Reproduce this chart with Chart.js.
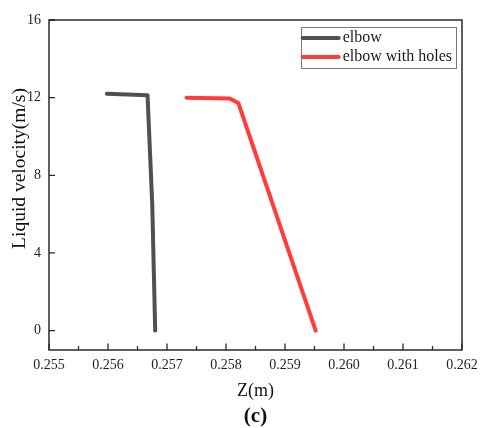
<!DOCTYPE html>
<html>
<head>
<meta charset="utf-8">
<script src="https://cdn.jsdelivr.net/npm/chart.js@4/dist/chart.umd.min.js"></script>
<style>
  html, body { margin: 0; padding: 0; background: #ffffff; }
  #wrap { width: 480px; height: 428px; position: relative; }
</style>
</head>
<body>
<div id="wrap"><canvas id="c" width="480" height="428"></canvas></div>
<script>
// ---- data ----
const seriesNames = ['elbow', 'elbow with holes'];
const elbowZ = [0.25598, 0.25667, 0.25675, 0.25680];
const elbowV = [12.20, 12.12, 6.5, 0.0];
const holesZ = [0.25733, 0.25806, 0.25821, 0.25952];
const holesV = [12.00, 11.96, 11.72, 0.0];
const xTickValues = [0.255, 0.256, 0.257, 0.258, 0.259, 0.260, 0.261, 0.262];
const yTickValues = [0, 4, 8, 12, 16];
const xTitle = 'Z(m)';
const yTitle = 'Liquid velocity(m/s)';
const panelLabel = '(c)';

const colors = ['#505050', '#ff3b3b'];
const FONT = "'Liberation Serif', 'Times New Roman', serif";

function pts(xs, ys) { return xs.map((x, i) => ({ x: x, y: ys[i] })); }

const framePlugin = {
  id: 'frame',
  afterDraw(chart) {
    const ctx = chart.ctx;
    const a = chart.chartArea;
    const xs = chart.scales.x, ys = chart.scales.y;
    ctx.save();
    ctx.strokeStyle = '#2a2a2a';
    ctx.lineWidth = 1.5;
    ctx.strokeRect(a.left, a.top, a.right - a.left, a.bottom - a.top);
    ctx.lineWidth = 1.3;
    ctx.beginPath();
    xs.ticks.forEach((t, i) => {
      const px = xs.getPixelForValue(t.value);
      ctx.moveTo(px, a.bottom); ctx.lineTo(px, a.bottom - 6.5);
      if (i < xs.ticks.length - 1) {
        const mx = (px + xs.getPixelForValue(xs.ticks[i + 1].value)) / 2;
        ctx.moveTo(mx, a.bottom); ctx.lineTo(mx, a.bottom - 4);
      }
    });
    ys.ticks.forEach((t) => {
      const py = ys.getPixelForValue(t.value);
      ctx.moveTo(a.left, py); ctx.lineTo(a.left + 6, py);
    });
    ctx.stroke();

    // y axis title (placed slightly above the plot centre, as in the reference)
    ctx.save();
    ctx.font = "19.5px " + FONT;
    ctx.fillStyle = '#111';
    ctx.textAlign = 'center';
    ctx.textBaseline = 'middle';
    ctx.translate(20, ys.getPixelForValue(8.35));
    ctx.rotate(-Math.PI / 2);
    ctx.fillText(yTitle, 0, 0);
    ctx.restore();

    // legend box
    ctx.font = "16px " + FONT;
    const labels = chart.data.datasets.map(d => d.label);
    const textW = Math.max(...labels.map(l => ctx.measureText(l).width));
    const lineLen = 38, gap = 4, rowH = 19;
    const boxW = lineLen + gap + textW + 4;
    const boxH = rowH * labels.length + 3;
    const bx = a.right - 6 - boxW;
    const by = a.top + 6.5;
    ctx.strokeStyle = '#7a7a7a';
    ctx.lineWidth = 1;
    ctx.strokeRect(Math.round(bx) + 0.5, Math.round(by) + 0.5, Math.round(boxW), Math.round(boxH));
    chart.data.datasets.forEach((d, i) => {
      const cy = by + 11.5 + i * rowH;
      ctx.strokeStyle = d.borderColor;
      ctx.lineWidth = 4;
      ctx.lineCap = 'round';
      ctx.beginPath();
      ctx.moveTo(bx + 2, cy); ctx.lineTo(bx + lineLen, cy);
      ctx.stroke();
      ctx.fillStyle = '#1a1a1a';
      ctx.textBaseline = 'middle';
      ctx.textAlign = 'left';
      ctx.fillText(d.label, bx + lineLen + gap, cy);
    });
    ctx.restore();
  }
};

new Chart(document.getElementById('c'), {
  type: 'line',
  data: {
    datasets: [
      { label: seriesNames[0], data: pts(elbowZ, elbowV), borderColor: colors[0], backgroundColor: colors[0],
        borderWidth: 4, pointRadius: 0, tension: 0, borderCapStyle: 'round', borderJoinStyle: 'round', fill: false },
      { label: seriesNames[1], data: pts(holesZ, holesV), borderColor: colors[1], backgroundColor: colors[1],
        borderWidth: 4, pointRadius: 0, tension: 0, borderCapStyle: 'round', borderJoinStyle: 'round', fill: false }
    ]
  },
  options: {
    responsive: false,
    animation: false,
    devicePixelRatio: 1,
    layout: { padding: { top: 20, right: 18, left: 0, bottom: 0 } },
    plugins: {
      legend: { display: false },
      tooltip: { enabled: false },
      title: {
        display: true, text: panelLabel, position: 'bottom', color: '#111', fullSize: false,
        font: { family: FONT, size: 21, weight: 'bold', lineHeight: '22px' },
        padding: { top: 0, bottom: 0 }
      }
    },
    scales: {
      x: {
        type: 'linear', min: 0.255, max: 0.262,
        afterBuildTicks: (s) => { s.ticks = xTickValues.map(v => ({ value: v })); },
        afterFit: (s) => { s.height = 56; s.paddingRight = 0; s.paddingLeft = 0; },
        grid: { display: false, drawTicks: false },
        border: { display: false },
        ticks: { color: '#222', padding: 7, maxRotation: 0, autoSkip: false,
          font: { family: FONT, size: 14 },
          callback: (v) => Number(v).toFixed(3) },
        title: { display: true, text: xTitle, color: '#111', font: { family: FONT, size: 18 },
          padding: { top: 0, bottom: 4 } }
      },
      y: {
        type: 'linear', min: -1, max: 16,
        afterBuildTicks: (s) => { s.ticks = yTickValues.map(v => ({ value: v })); },
        afterFit: (s) => { s.width = 49; s.paddingTop = 0; s.paddingBottom = 0; },
        grid: { display: false, drawTicks: false },
        border: { display: false },
        ticks: { color: '#222', padding: 8, autoSkip: false, font: { family: FONT, size: 14 } },
        title: { display: false, text: yTitle }
      }
    }
  },
  plugins: [framePlugin]
});
</script>
</body>
</html>
